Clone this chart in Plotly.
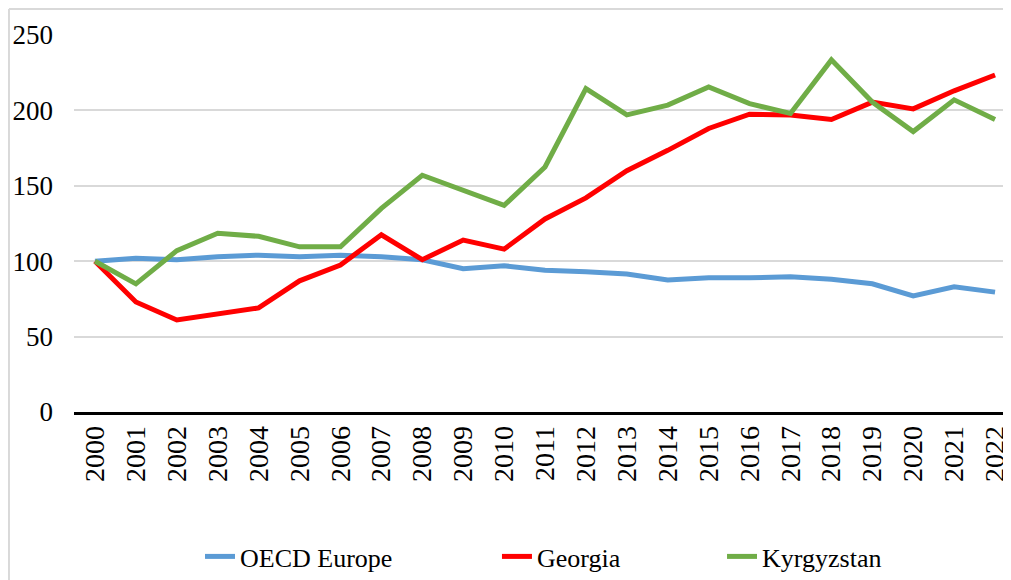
import plotly.graph_objects as go

years = list(range(2000, 2023))
year_labels = [str(y) for y in years]

oecd_europe = [100, 102, 101, 103, 104, 103, 104, 103, 101, 95, 97, 94, 93, 91.5, 87.5, 89, 89, 89.7, 88, 85, 77, 83, 79.5]
georgia = [100, 73, 61, 65, 69, 87, 97.5, 117.5, 101, 114, 108, 128, 142, 160, 173.5, 188, 197.5, 197, 194, 205.5, 201, 213, 223.5]
kyrgyzstan = [100, 85, 107, 118.5, 116.5, 109.5, 109.5, 135, 157, 147, 137, 162.5, 214.5, 197, 203.5, 215.5, 204.5, 198, 233.5, 205.5, 186, 207, 194]

y_ticks = [0, 50, 100, 150, 200, 250]

FONT = "Liberation Serif, Times New Roman, serif"
LEG_FONT = dict(family=FONT, size=26, color="black")

fig = go.Figure()
fig.add_trace(go.Scatter(x=years, y=oecd_europe, mode="lines", name="OECD Europe",
                         line=dict(color="#5B9BD5", width=5), legend="legend"))
fig.add_trace(go.Scatter(x=years, y=georgia, mode="lines", name="Georgia",
                         line=dict(color="#FF0000", width=5), legend="legend2"))
fig.add_trace(go.Scatter(x=years, y=kyrgyzstan, mode="lines", name="Kyrgyzstan",
                         line=dict(color="#70AD47", width=5), legend="legend3"))

leg_common = dict(orientation="h", y=-0.385, yanchor="middle", xanchor="left",
                  font=LEG_FONT, bgcolor="rgba(0,0,0,0)")

fig.update_layout(
    width=1003, height=572,
    margin=dict(l=66, r=0, t=27, b=168),
    paper_bgcolor="white", plot_bgcolor="white",
    font=dict(family=FONT, color="black", size=24),
    showlegend=True,
    legend=dict(x=0.1345, **leg_common),
    legend2=dict(x=0.4514, **leg_common),
    legend3=dict(x=0.6916, **leg_common),
    xaxis=dict(
        range=[1999.487, 2022.39],
        tickmode="array", tickvals=years, ticktext=year_labels,
        tickangle=-90, showgrid=False, zeroline=False,
        showline=True, linecolor="black", linewidth=2.5,
        ticks="", ticklabelstandoff=0,
        tickfont=dict(family=FONT, size=28, color="black"),
        fixedrange=True,
    ),
    yaxis=dict(
        range=[0, 250],
        tickmode="array", tickvals=y_ticks, ticktext=[str(v) for v in y_ticks],
        showgrid=True, gridcolor="#D9D9D9", gridwidth=1.5,
        zeroline=False, showline=False, ticks="", ticklabelstandoff=20,
        tickfont=dict(family=FONT, size=27, color="black"),
        fixedrange=True,
    ),
    shapes=[
        dict(type="line", xref="paper", yref="paper", x0=-0.0694, x1=-0.0694, y0=-0.5, y1=1.069,
             line=dict(color="#D9D9D9", width=2)),
        dict(type="line", xref="paper", yref="paper", x0=-0.0694, x1=1.0, y0=1.069, y1=1.069,
             line=dict(color="#D9D9D9", width=2)),
    ],
)

fig.write_html("out.html")
